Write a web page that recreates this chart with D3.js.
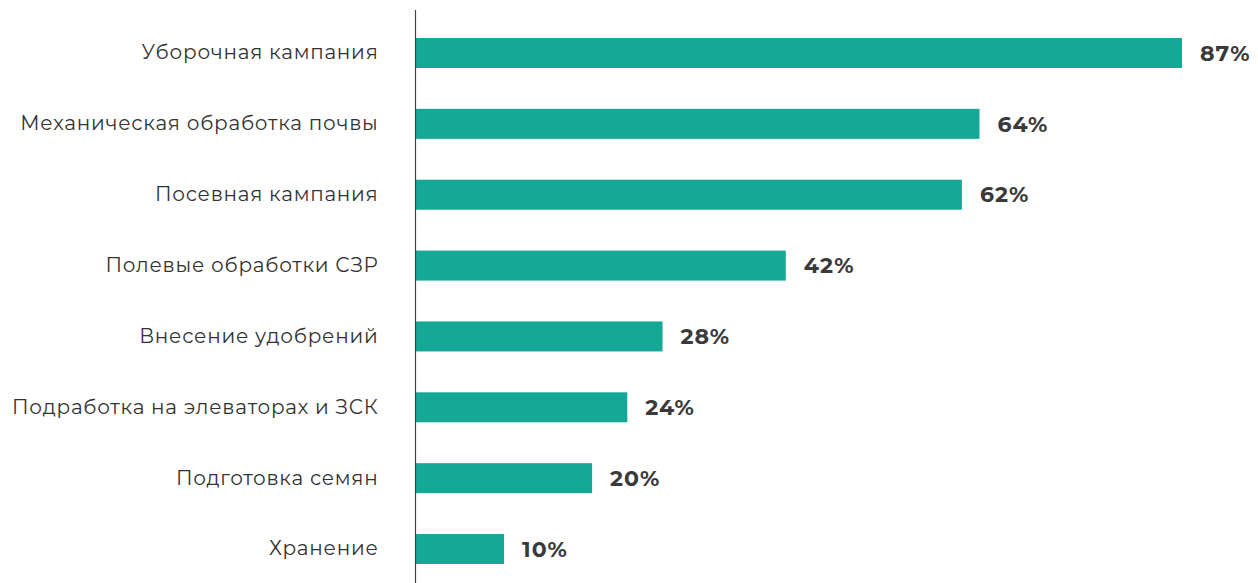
<!DOCTYPE html>
<html>
<head>
<meta charset="utf-8">
<script src="https://cdn.jsdelivr.net/npm/d3@7"></script>
<style>
  body { margin: 0; background: #fff; }
  svg { display: block; font-family: Montserrat, "Open Sans", sans-serif; }
</style>
</head>
<body>
<svg id="chart"></svg>
<script>
// categories top to bottom
var categories = [
  "Уборочная кампания",
  "Механическая обработка почвы",
  "Посевная кампания",
  "Полевые обработки СЗР",
  "Внесение удобрений",
  "Подработка на элеваторах и ЗСК",
  "Подготовка семян",
  "Хранение"
];
var values = [87, 64, 62, 42, 28, 24, 20, 10];

var W = 1258, H = 583;
var axisX = 415.5;

var svg = d3.select("#chart").attr("width", W).attr("height", H);

var data = categories.map(function (c, i) { return { name: c, value: values[i] }; });

var x = d3.scaleLinear().domain([0, 87]).range([axisX + 0.5, 1182]);

var step = 70.86;
var y = d3.scaleBand()
  .domain(categories)
  .range([53 - step / 2, 53 - step / 2 + step * 8])
  .paddingInner(1 - 30 / step)
  .paddingOuter((1 - 30 / step) / 2);

// bars
svg.selectAll("rect.bar")
  .data(data)
  .join("rect")
  .attr("class", "bar")
  .attr("x", x(0))
  .attr("y", function (d) { return y(d.name); })
  .attr("width", function (d) { return x(d.value) - x(0); })
  .attr("height", y.bandwidth())
  .style("fill", "#16a896");

// value labels
svg.selectAll("text.val")
  .data(data)
  .join("text")
  .attr("class", "val")
  .attr("x", function (d) { return x(d.value) + 18; })
  .attr("y", function (d) { return y(d.name) + y.bandwidth() / 2; })
  .attr("dy", "0.35em")
  .style("font-size", "22px")
  .style("letter-spacing", "1px")
  .style("font-weight", "bold")
  .style("fill", "#3a3a3a")
  .text(function (d) { return d.value + "%"; });

// category axis
var yAxis = svg.append("g")
  .attr("transform", "translate(" + axisX + ",0)")
  .call(d3.axisLeft(y).tickSize(0).tickPadding(37));
yAxis.select(".domain").remove();
yAxis.selectAll("text")
  .style("font-size", "20px")
  .style("letter-spacing", "0.75px")
  .style("font-family", "Montserrat, 'Open Sans', sans-serif")
  .style("fill", "#333");

svg.append("line")
  .attr("x1", axisX).attr("x2", axisX)
  .attr("y1", 10).attr("y2", H)
  .style("stroke", "#444")
  .style("stroke-width", 1.2);
</script>
</body>
</html>
